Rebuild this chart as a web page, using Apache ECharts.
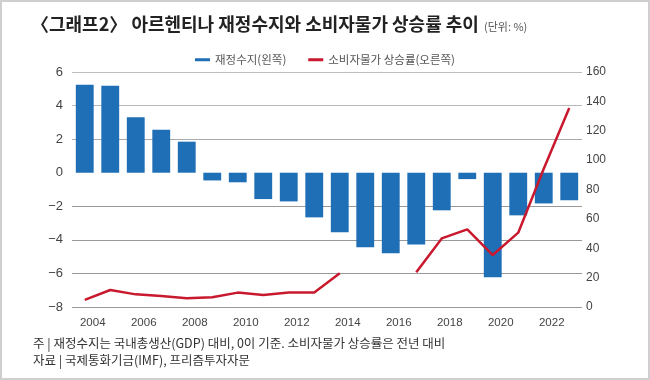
<!DOCTYPE html>
<html>
<head>
<meta charset="utf-8">
<script src="https://cdn.jsdelivr.net/npm/echarts@6/dist/echarts.min.js"></script>
<style>
html,body{margin:0;padding:0;background:#fff;}
#wrap{position:relative;width:650px;height:380px;box-sizing:border-box;border:2px solid #cfcfcf;background:#fff;overflow:hidden;}
#chart{position:absolute;left:-2px;top:-2px;width:650px;height:380px;}
</style>
</head>
<body>
<div id="wrap"><div id="chart"></div></div>
<script>
const years = ['2004','2005','2006','2007','2008','2009','2010','2011','2012','2013','2014','2015','2016','2017','2018','2019','2020','2021','2022','2023'];
const fiscalBalance = [5.24, 5.18, 3.31, 2.56, 1.85, -0.46, -0.57, -1.57, -1.71, -2.66, -3.55, -4.44, -4.80, -4.27, -2.24, -0.38, -6.23, -2.54, -1.83, -1.64];
const inflation = [4.8, 11.6, 8.6, 7.5, 5.9, 6.6, 9.8, 8.2, 9.8, 9.8, 22.9, null, null, 23.6, 46.7, 52.9, 35.4, 50.6, 94.1, 135.5];
const leftTicks = [-8, -6, -4, -2, 0, 2, 4, 6];
const rightTicks = [0, 20, 40, 60, 80, 100, 120, 140, 160];
const seriesNames = ['재정수지(왼쪽)', '소비자물가 상승률(오른쪽)'];
const titleText = '〈그래프2〉 아르헨티나 재정수지와 소비자물가 상승률 추이';
const unitText = '(단위: %)';
const note1 = '주 | 재정수지는 국내총생산(GDP) 대비, 0이 기준. 소비자물가 상승률은 전년 대비';
const note2 = '자료 | 국제통화기금(IMF), 프리즘투자자문';

const KR = '"Noto Sans CJK KR", "Noto Sans", sans-serif';
const NUM = '"Liberation Sans", Arial, sans-serif';
const chart = echarts.init(document.getElementById('chart'), null, {renderer: 'canvas'});
const fmt = v => String(v).replace('-', '−');
const option = {
  animation: false,
  backgroundColor: 'transparent',
  textStyle: {fontFamily: KR},
  graphic: [
    {type: 'text', left: 31, top: 15, style: {text: titleText, fontFamily: KR, fontSize: 18, fontWeight: 'bold', fill: '#222'}},
    {type: 'text', left: 484, top: 21, style: {text: unitText, fontFamily: KR, fontSize: 11, fill: '#555'}},
    {type: 'text', left: 33, top: 337, style: {text: note1, fontFamily: KR, fontSize: 12.5, fill: '#333'}},
    {type: 'text', left: 33, top: 354, style: {text: note2, fontFamily: KR, fontSize: 12.5, fill: '#333'}}
  ],
  legend: {
    top: 49, left: 'center', itemGap: 22, itemWidth: 15, itemHeight: 3,
    textStyle: {fontFamily: KR, fontSize: 11.5, color: '#555'},
    data: [
      {name: seriesNames[0], icon: 'rect', itemStyle: {color: '#1f6fb6'}},
      {name: seriesNames[1], icon: 'rect', itemStyle: {color: '#c8192e'}}
    ]
  },
  grid: {left: 72, right: 68, top: 72, bottom: 73, containLabel: false},
  xAxis: {
    type: 'category', data: years, boundaryGap: true,
    axisLine: {show: false}, axisTick: {show: false},
    axisLabel: {interval: 1, color: '#444', fontFamily: NUM, fontSize: 11.5, margin: 10, padding: [0, 0, 0, 16]}
  },
  yAxis: [
    {
      type: 'value', min: leftTicks[0], max: leftTicks[leftTicks.length - 1], interval: 2,
      axisLine: {show: false}, axisTick: {show: false},
      axisLabel: {color: '#444', fontFamily: NUM, fontSize: 13, margin: 9, formatter: fmt},
      splitLine: {show: true, lineStyle: {color: ['#999', '#999', '#999', '#999', 'rgba(0,0,0,0)', '#aaa', '#b8b8b8', '#bdbdbd'], width: 1}}
    },
    {
      type: 'value', min: rightTicks[0], max: rightTicks[rightTicks.length - 1], interval: 20,
      axisLine: {show: false}, axisTick: {show: false}, splitLine: {show: false},
      axisLabel: {color: '#444', fontFamily: NUM, fontSize: 12, margin: 4}
    }
  ],
  series: [
    {name: seriesNames[0], type: 'bar', yAxisIndex: 0, data: fiscalBalance, barWidth: '70%', itemStyle: {color: '#1f6fb6'}},
    {name: seriesNames[1], type: 'line', yAxisIndex: 1, data: inflation, symbol: 'none', connectNulls: false,
     lineStyle: {color: '#c8192e', width: 2.5}, itemStyle: {color: '#c8192e'}}
  ]
};
chart.setOption(option);
</script>
</body>
</html>
